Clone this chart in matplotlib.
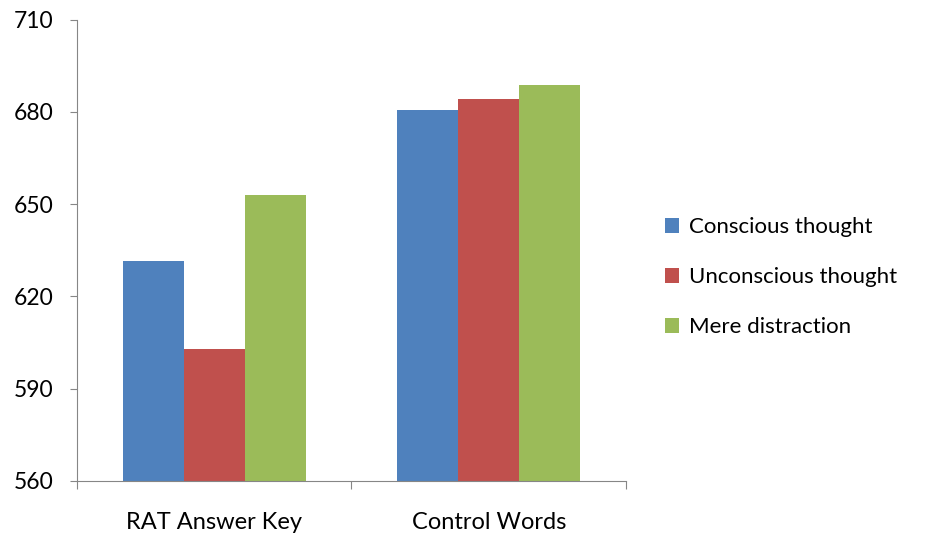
import numpy as np
import matplotlib.pyplot as plt

plt.rcParams['font.family'] = ['Lato', 'DejaVu Sans']

categories = ['RAT Answer Key', 'Control Words']
series = ['Conscious thought', 'Unconscious thought', 'Mere distraction']
conscious = [631.5, 680.5]
unconscious = [603, 684.2]
distraction = [653, 688.8]
colors = ['#4F81BD', '#C0504D', '#9BBB59']

fig = plt.figure(figsize=(9.25, 5.43), dpi=100)
ax = fig.add_axes([0.0832, 0.1142, 0.5935, 0.8498])

x = np.arange(len(categories))
w = 0.222
for i, (vals, name) in enumerate(zip([conscious, unconscious, distraction], series)):
    ax.bar(x + (i - 1) * w, np.array(vals) - 560, w, bottom=560, color=colors[i], label=name,
           edgecolor='none')

ax.set_ylim(560, 710)
ax.set_yticks(np.arange(560, 711, 30))
ax.set_xlim(-0.5, 1.5)
ax.set_xticks([-0.5, 0.5, 1.5])
ax.set_xticklabels([])
ax.set_xticks(x, minor=True)
ax.set_xticklabels(categories, minor=True, fontsize=17)
ax.tick_params(axis='x', which='minor', length=0, pad=22)
ax.tick_params(axis='x', which='major', length=6, color='#868686', direction='out')
ax.tick_params(axis='y', length=5, color='#868686', labelsize=16.5, pad=12)
for s in ['top', 'right']:
    ax.spines[s].set_visible(False)
for s in ['left', 'bottom']:
    ax.spines[s].set_color('#868686')

fig.legend(loc='center left', bbox_to_anchor=(0.697, 0.49), frameon=False, fontsize=16,
           handlelength=0.65, handleheight=0.65, handletextpad=0.45, labelspacing=1.35)

fig.savefig('out.png', dpi=100)
